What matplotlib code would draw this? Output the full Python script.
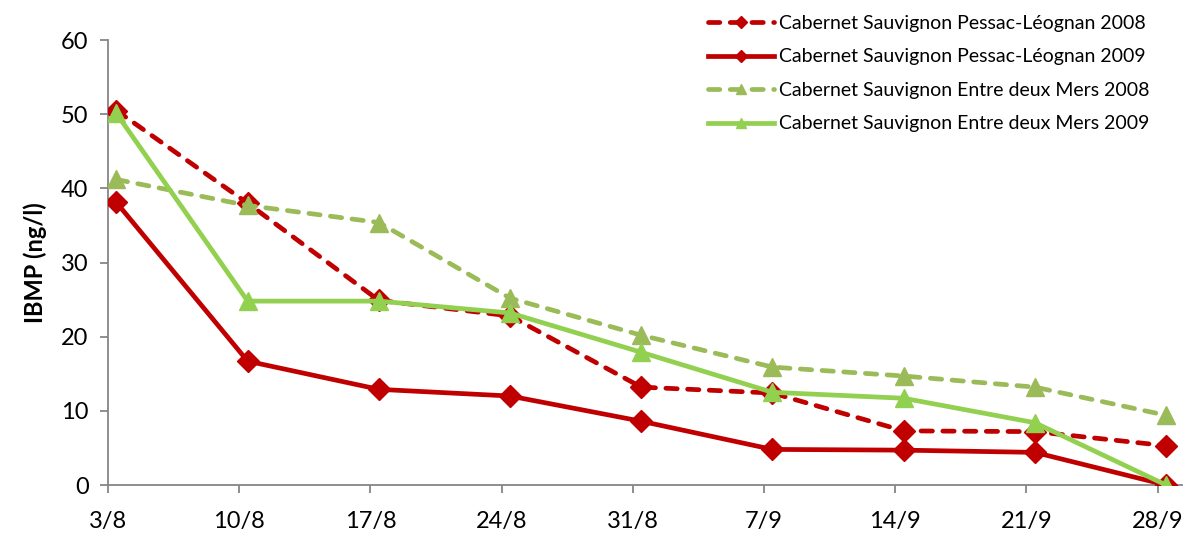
import numpy as np
import matplotlib
matplotlib.use('Agg')
import matplotlib.pyplot as plt

plt.rcParams['font.family'] = ['Lato', 'DejaVu Sans']

# dates (day offset from 3/8) and labels
dates = ['3/8', '10/8', '17/8', '24/8', '31/8', '7/9', '14/9', '21/9', '28/9']
days = np.arange(len(dates)) * 7

pessac_2008 = [50.5, 38.0, 24.9, 22.8, 13.2, 12.4, 7.3, 7.2, 5.3]
pessac_2009 = [38.1, 16.7, 12.9, 12.0, 8.6, 4.8, 4.7, 4.4, 0.0]
edm_2008 = [41.2, 37.7, 35.4, 25.2, 20.2, 15.9, 14.7, 13.2, 9.4]
edm_2009 = [50.1, 24.8, 24.8, 23.2, 17.9, 12.5, 11.7, 8.4, 0.0]

red = '#C00000'
olive = '#9BBB59'
green = '#92D050'
grey = '#868686'

fig = plt.figure(figsize=(12, 5.38), dpi=100)
ax = fig.add_axes([0.09, 0.0985, 0.895, 0.827])

xs = days + 0.45
dash = (2.4, 2.2)
ax.plot(xs, pessac_2008, color=red, lw=3.4, ls=(0, dash), dash_capstyle='round',
        marker='D', ms=11, label='Cabernet Sauvignon Pessac-Léognan 2008', zorder=3)
ax.plot(xs, pessac_2009, color=red, lw=3.4, marker='D', ms=11,
        label='Cabernet Sauvignon Pessac-Léognan 2009', zorder=3)
ax.plot(xs, edm_2008, color=olive, lw=3.4, ls=(0, dash), dash_capstyle='round',
        marker='^', ms=13, label='Cabernet Sauvignon Entre deux Mers 2008', zorder=3)
ax.plot(xs, edm_2009, color=green, lw=3.4, marker='^', ms=13,
        label='Cabernet Sauvignon Entre deux Mers 2009', zorder=4)

ax.set_ylim(0, 60)
ax.set_xlim(0, 57.3)
ax.set_yticks(range(0, 61, 10))
ax.set_xticks(days)
ax.set_xticklabels(dates)
ax.tick_params(axis='both', colors=grey, labelcolor='black', labelsize=17, length=6, width=1.3)
ax.tick_params(axis='x', pad=13)
ax.tick_params(axis='y', pad=8)
for s in ['top', 'right']:
    ax.spines[s].set_visible(False)
for s in ['left', 'bottom']:
    ax.spines[s].set_color(grey)
    ax.spines[s].set_linewidth(1.3)
for t in ax.get_xticklabels() + ax.get_yticklabels():
    t.set_clip_on(False)

ax.set_ylabel('IBMP (ng/l)', fontsize=17, fontweight='bold', labelpad=10)

ax.legend(loc='upper left', bbox_to_anchor=(0.575, 1.005), bbox_transform=fig.transFigure,
          frameon=False, fontsize=14, handlelength=3.4, handletextpad=0.3,
          labelspacing=0.85, markerscale=0.6)

fig.savefig('out.png', dpi=100)
